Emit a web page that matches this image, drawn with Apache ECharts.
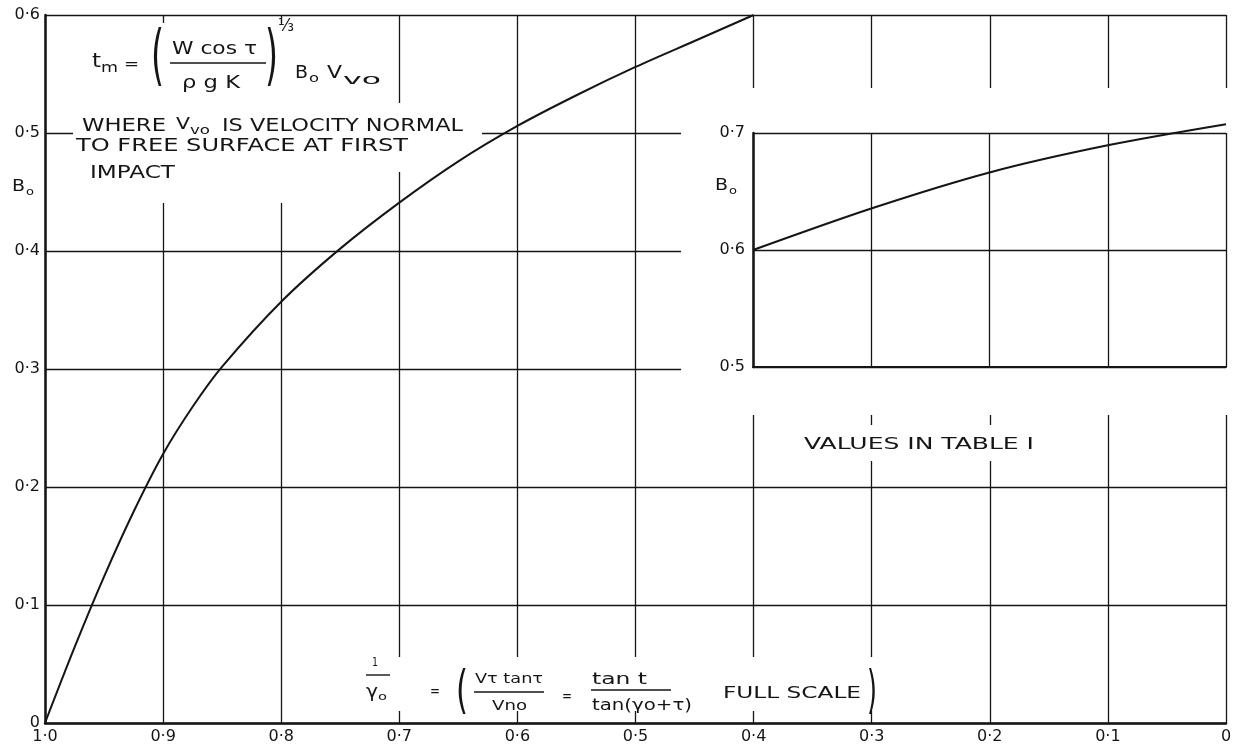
<!DOCTYPE html>
<html>
<head>
<meta charset="utf-8">
<script src="https://cdn.jsdelivr.net/npm/echarts@6/dist/echarts.min.js"></script>
<style>
  html, body { margin: 0; padding: 0; background: #fff; }
  #chart { width: 1244px; height: 750px; }
</style>
</head>
<body>
<div id="chart"></div>
<script>
// ---- data ----
const mainX = [1.0, 0.975, 0.95, 0.925, 0.9, 0.875, 0.85, 0.8, 0.75, 0.7, 0.65, 0.6, 0.55, 0.5, 0.45, 0.4];
const mainB = [0, 0.064, 0.124, 0.179, 0.228, 0.268, 0.302, 0.357, 0.402, 0.441, 0.476, 0.506, 0.532, 0.556, 0.578, 0.6];
const insetX = [0.4, 0.3, 0.2, 0.1, 0.0];
const insetB = [0.6, 0.6355, 0.6663, 0.6895, 0.7075];
const xTickLabels = ['0', '0·1', '0·2', '0·3', '0·4', '0·5', '0·6', '0·7', '0·8', '0·9', '1·0'];
const yTickLabels = ['0', '0·1', '0·2', '0·3', '0·4', '0·5', '0·6'];
const insetYTickLabels = ['0·5', '0·6', '0·7'];

const INK = '#151515';
const FONT = '"DejaVu Sans"';
const measureCtx = document.createElement('canvas').getContext('2d');

function txt(str, left, cy, size, width, extra) {
  const font = size + 'px ' + FONT;
  measureCtx.font = font;
  const w = measureCtx.measureText(str).width;
  const sx = width ? width / w : 1;
  return Object.assign({
    type: 'text', x: left, y: cy, scaleX: sx, z: 20,
    style: { text: str, x: 0, y: 0, font: font, fill: INK, align: 'left', verticalAlign: 'middle' }
  }, extra || {});
}
function mask(x, y, w, h) {
  return { type: 'rect', z: 5, shape: { x: x, y: y, width: w, height: h }, style: { fill: '#fff' }, silent: true };
}
function bar(x1, x2, y) {
  return { type: 'line', z: 20, shape: { x1: x1, y1: y, x2: x2, y2: y }, style: { stroke: INK, lineWidth: 1.4 } };
}

const graphics = [
  // white gaps in the grid where the hand lettering sits
  mask(73, 23, 322, 180),
  mask(395, 103, 87, 69),
  mask(681, 88, 560, 327),
  mask(796, 425, 246, 36),
  mask(360, 657, 520, 54),

  // formula at top left
  txt('t', 92, 62, 19, 9),
  txt('m', 101, 68, 14, 17),
  txt('=', 124, 65, 15, 15),
  txt('(', 151, 60, 66, 13),
  txt('W cos τ', 172, 50, 17, 85),
  bar(170, 266, 63),
  txt('ρ g K', 182, 84, 17, 58),
  txt(')', 265, 60, 66, 13),
  txt('⅓', 278, 27, 17, 16),
  txt('B', 295, 74, 17, 13),
  txt('o', 309, 79, 12, 10),
  txt('V', 327, 74, 17, 15),
  txt('vo', 343, 80, 14, 38),

  // note
  txt('WHERE', 82, 127, 17, 84),
  txt('V', 176, 125, 16, 14),
  txt('vo', 190, 131, 12, 20),
  txt('IS VELOCITY NORMAL', 222, 127, 17, 241),
  txt('TO FREE SURFACE AT FIRST', 76, 147, 17, 332),
  txt('IMPACT', 90, 174, 17, 85),

  // main axis title B0
  txt('B', 12, 187, 16, 13),
  txt('o', 26, 192, 11, 8),

  // inset axis title B0
  txt('B', 715, 186, 16, 13),
  txt('o', 729, 191, 11, 8),

  // inset note
  txt('VALUES IN TABLE I', 804, 445, 16, 230),

  // x-axis formula at the bottom
  txt('1', 372, 663, 13, 6),
  bar(366, 390, 675),
  txt('γ', 366, 693, 17, 12),
  txt('o', 378, 697, 11, 9),
  txt('=', 430, 692, 14, 10),
  txt('(', 456, 693, 52, 12),
  txt('Vτ tanτ', 475, 679, 14, 68),
  bar(474, 544, 692),
  txt('Vno', 492, 706, 14, 35),
  txt('=', 562, 697, 14, 10),
  txt('tan t', 592, 680, 16, 55),
  bar(591, 671, 690),
  txt('tan(γo+τ)', 592, 706, 15, 100),
  txt('FULL SCALE', 723, 694, 16, 138),
  txt(')', 867, 693, 52, 10)
];

const chart = echarts.init(document.getElementById('chart'), null, { renderer: 'canvas' });

const labelStyle = { color: INK, fontFamily: FONT, fontSize: 16 };
const splitStyle = { show: true, lineStyle: { color: INK, width: 1.3 } };

chart.setOption({
  backgroundColor: '#fff',
  animation: false,
  grid: [
    { left: 45, top: 15, width: 1181, height: 708 },
    { left: 753, top: 133, width: 473, height: 234 }
  ],
  xAxis: [
    {
      type: 'value', gridIndex: 0, min: 0, max: 1, interval: 0.1, inverse: true,
      axisLine: { show: true, onZero: false, lineStyle: { color: INK, width: 2.5 } },
      axisTick: { show: false },
      splitLine: splitStyle,
      axisLabel: { ...labelStyle, margin: 6, formatter: v => xTickLabels[Math.round(v * 10)] }
    },
    {
      type: 'value', gridIndex: 1, min: 0, max: 0.4, interval: 0.1, inverse: true, z: 10,
      axisLine: { show: true, onZero: false, lineStyle: { color: INK, width: 2 } },
      axisTick: { show: false },
      splitLine: splitStyle,
      axisLabel: { show: false }
    }
  ],
  yAxis: [
    {
      type: 'value', gridIndex: 0, min: 0, max: 0.6, interval: 0.1,
      axisLine: { show: true, onZero: false, lineStyle: { color: INK, width: 2.5 } },
      axisTick: { show: false },
      splitLine: splitStyle,
      axisLabel: { ...labelStyle, margin: 5, formatter: v => yTickLabels[Math.round(v * 10)] }
    },
    {
      type: 'value', gridIndex: 1, min: 0.5, max: 0.7, interval: 0.1, z: 10,
      axisLine: { show: true, onZero: false, lineStyle: { color: INK, width: 2.5 } },
      axisTick: { show: false },
      splitLine: splitStyle,
      axisLabel: { ...labelStyle, margin: 8, formatter: v => insetYTickLabels[Math.round((v - 0.5) * 10)] }
    }
  ],
  graphic: graphics,
  series: [
    {
      type: 'line', xAxisIndex: 0, yAxisIndex: 0, z: 8,
      data: mainX.map((x, i) => [x, mainB[i]]),
      smooth: 0.3, showSymbol: false, clip: false,
      lineStyle: { color: INK, width: 2 }
    },
    {
      type: 'line', xAxisIndex: 1, yAxisIndex: 1, z: 12,
      data: insetX.map((x, i) => [x, insetB[i]]),
      smooth: 0.3, showSymbol: false, clip: false,
      lineStyle: { color: INK, width: 2 }
    }
  ]
});
</script>
</body>
</html>
